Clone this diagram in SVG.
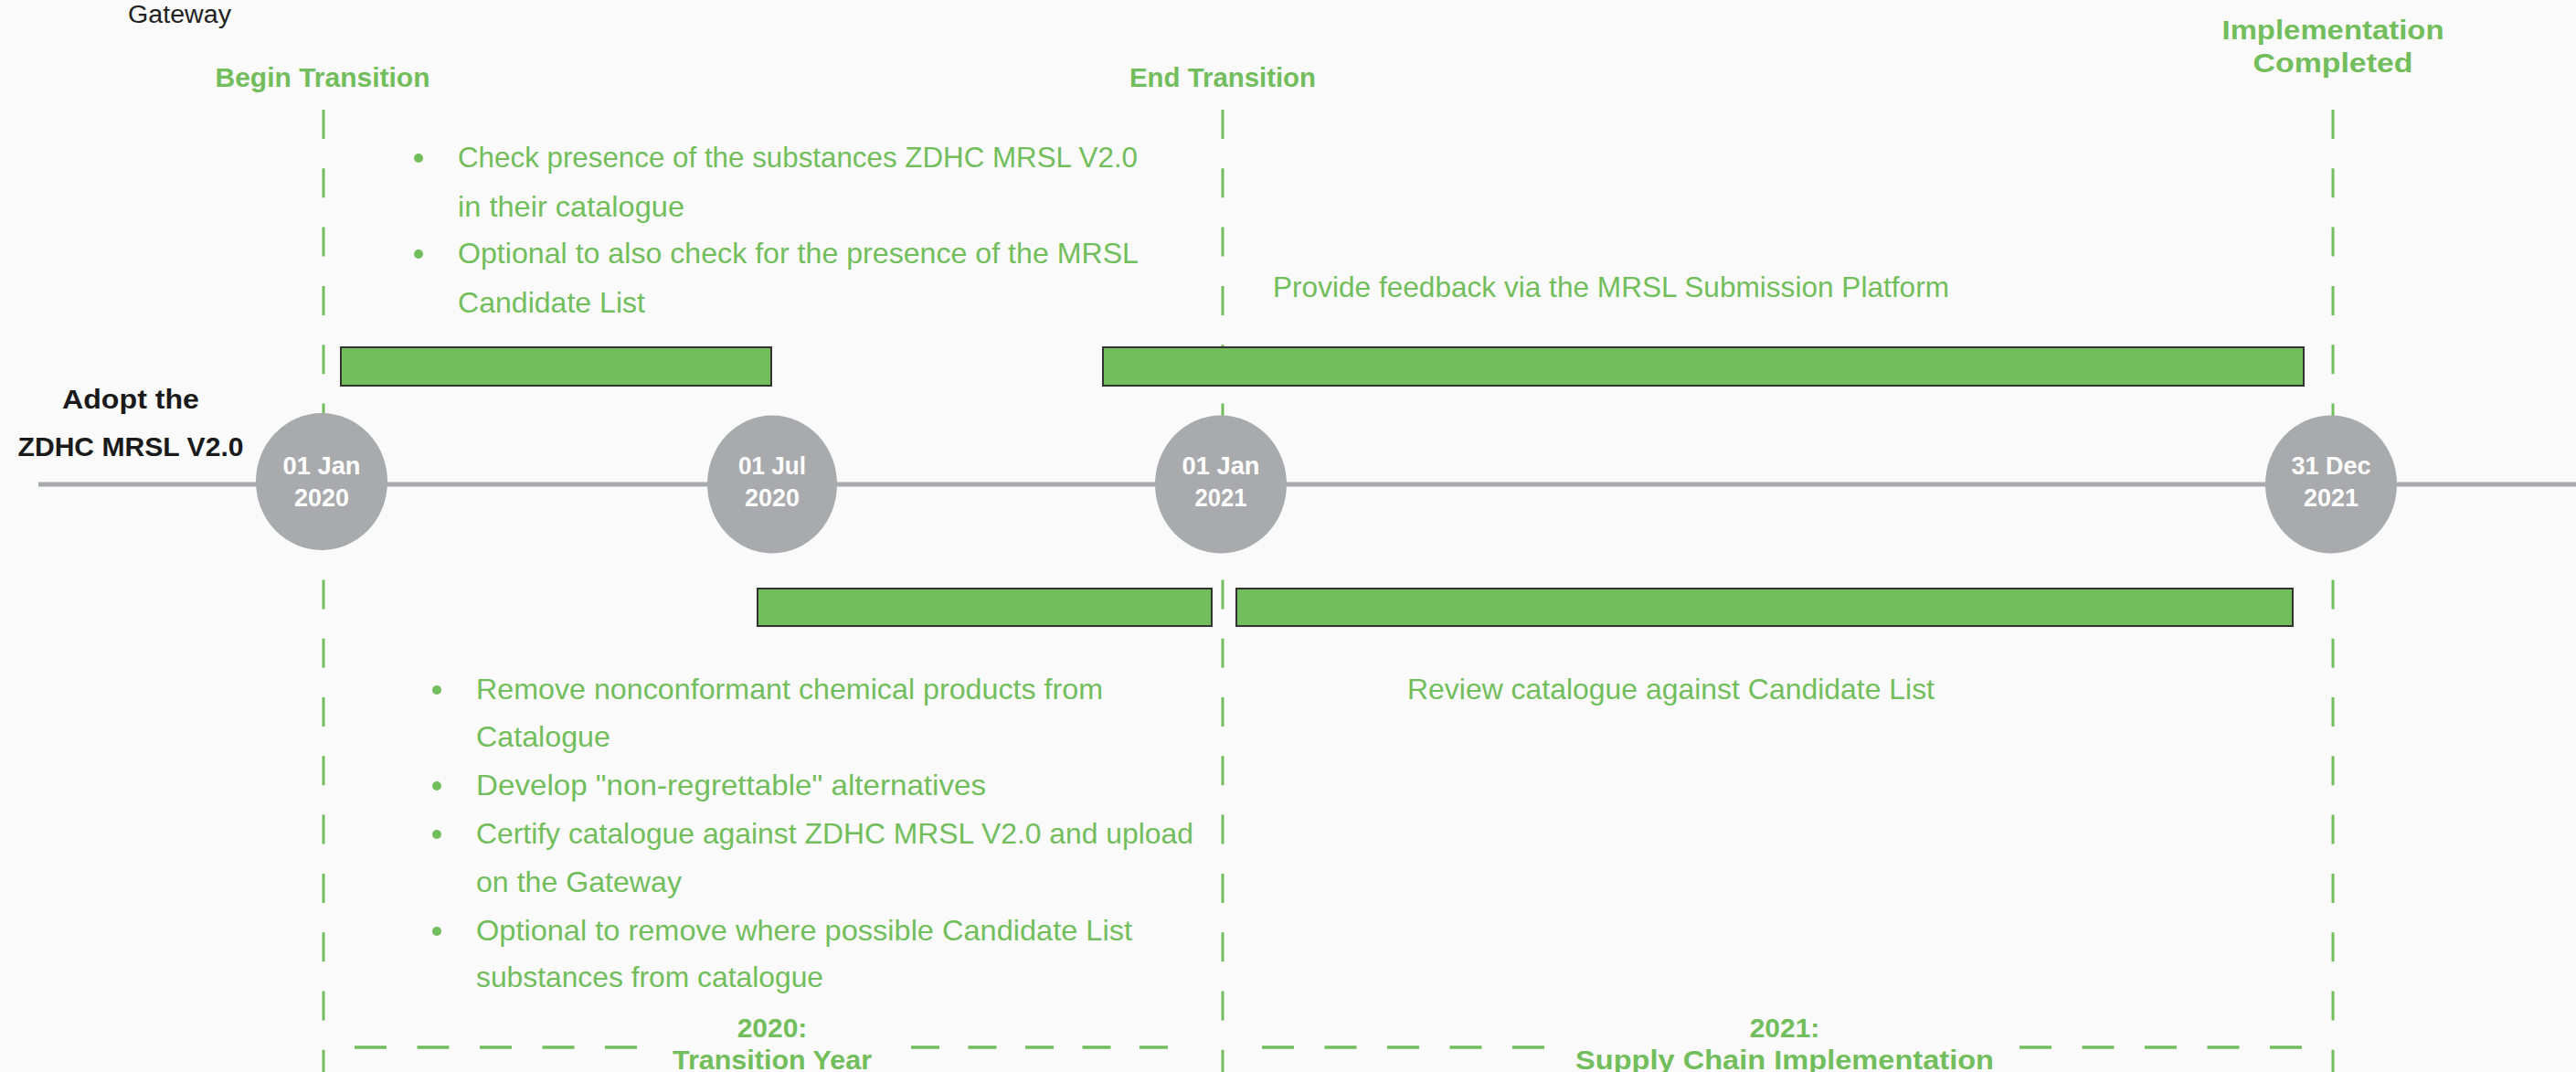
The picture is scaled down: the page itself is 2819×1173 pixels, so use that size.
<svg xmlns="http://www.w3.org/2000/svg" width="2819" height="1173" viewBox="0 0 2819 1173">
<style>
.body{font-family:"Liberation Sans",Arial,sans-serif;font-size:31.5px;fill:#72bd5c}
.head{font-family:"Liberation Sans",Arial,sans-serif;font-size:30px;font-weight:bold;fill:#72bd5c;text-anchor:middle}
.date{font-family:"Liberation Sans",Arial,sans-serif;font-size:27px;font-weight:bold;fill:#ffffff;text-anchor:middle}
.black{font-family:"Liberation Sans",Arial,sans-serif;font-weight:bold;fill:#1a1a1a;text-anchor:middle;font-size:30px}
.guide{stroke:#72bd5c;stroke-width:3;stroke-dasharray:32 32.3;fill:none}
.hdash{stroke:#72bd5c;stroke-width:3.5;fill:none}
.bar{fill:#72bd5c;stroke:#333333;stroke-width:2}
.node{fill:#a9aaad}
.dot{fill:#72bd5c}
</style>
<rect x="0" y="0" width="2819" height="1173" fill="#fafafa"/>
<text x="140" y="25" font-family="Liberation Sans, Arial, sans-serif" font-size="27" fill="#222" textLength="113" lengthAdjust="spacingAndGlyphs">Gateway</text>

<g id="connectors">
  <line class="guide" x1="354" y1="120" x2="354" y2="1173"/>
  <line class="guide" x1="1338" y1="120" x2="1338" y2="1173"/>
  <line class="guide" x1="2553" y1="120" x2="2553" y2="1173"/>
  <line x1="42" y1="530" x2="2819" y2="530" stroke="#a9aaad" stroke-width="5"/>
  <line class="hdash" x1="388" y1="1146" x2="697" y2="1146" stroke-dasharray="35 33.5"/>
  <line class="hdash" x1="997" y1="1146" x2="1278" y2="1146" stroke-dasharray="31 31.5"/>
  <line class="hdash" x1="1381" y1="1146" x2="1691" y2="1146" stroke-dasharray="35 33.5"/>
  <line class="hdash" x1="2210" y1="1146" x2="2519" y2="1146" stroke-dasharray="35 33.5"/>
</g>

<g id="milestone-begin">
  <text class="head" x="353" y="95" textLength="235" lengthAdjust="spacingAndGlyphs">Begin Transition</text>
</g>
<g id="milestone-end">
  <text class="head" x="1338" y="95" textLength="204" lengthAdjust="spacingAndGlyphs">End Transition</text>
</g>
<g id="milestone-complete">
  <text class="head" x="2553" y="43" font-size="32" textLength="243" lengthAdjust="spacingAndGlyphs">Implementation</text>
  <text class="head" x="2553" y="79" font-size="32" textLength="175" lengthAdjust="spacingAndGlyphs">Completed</text>
</g>

<g id="adopt">
  <text class="black" x="143" y="447" textLength="150" lengthAdjust="spacingAndGlyphs">Adopt the</text>
  <text class="black" x="143" y="499" textLength="247" lengthAdjust="spacingAndGlyphs">ZDHC MRSL V2.0</text>
</g>

<g id="node-jan2020">
  <ellipse class="node" cx="352" cy="527" rx="72" ry="75"/>
  <text class="date" x="352" y="519" textLength="85" lengthAdjust="spacingAndGlyphs">01 Jan</text>
  <text class="date" x="352" y="554" textLength="60" lengthAdjust="spacingAndGlyphs">2020</text>
</g>
<g id="node-jul2020">
  <ellipse class="node" cx="845" cy="530" rx="71" ry="75.5"/>
  <text class="date" x="845" y="519" textLength="74" lengthAdjust="spacingAndGlyphs">01 Jul</text>
  <text class="date" x="845" y="554" textLength="60" lengthAdjust="spacingAndGlyphs">2020</text>
</g>
<g id="node-jan2021">
  <ellipse class="node" cx="1336" cy="530" rx="72" ry="75.5"/>
  <text class="date" x="1336" y="519" textLength="85" lengthAdjust="spacingAndGlyphs">01 Jan</text>
  <text class="date" x="1336" y="554" textLength="57" lengthAdjust="spacingAndGlyphs">2021</text>
</g>
<g id="node-dec2021">
  <ellipse class="node" cx="2551" cy="530" rx="72" ry="75.5"/>
  <text class="date" x="2551" y="519">31 Dec</text>
  <text class="date" x="2551" y="554">2021</text>
</g>

<g id="bar-check"><rect class="bar" x="373" y="380" width="471" height="42"/></g>
<g id="bar-feedback"><rect class="bar" x="1207" y="380" width="1314" height="42"/></g>
<g id="bar-remove"><rect class="bar" x="829" y="644" width="497" height="41"/></g>
<g id="bar-review"><rect class="bar" x="1353" y="644" width="1156" height="41"/></g>

<g id="text-check">
  <circle class="dot" cx="458" cy="173" r="5"/>
  <text class="body" x="501" y="183" textLength="744" lengthAdjust="spacingAndGlyphs">Check presence of the substances ZDHC MRSL V2.0</text>
  <text class="body" x="501" y="237" textLength="248" lengthAdjust="spacingAndGlyphs">in their catalogue</text>
  <circle class="dot" cx="458" cy="278" r="5"/>
  <text class="body" x="501" y="288" textLength="745" lengthAdjust="spacingAndGlyphs">Optional to also check for the presence of the MRSL</text>
  <text class="body" x="501" y="342" textLength="205" lengthAdjust="spacingAndGlyphs">Candidate List</text>
</g>

<g id="text-feedback">
  <text class="body" x="1393" y="325" textLength="740" lengthAdjust="spacingAndGlyphs">Provide feedback via the MRSL Submission Platform</text>
</g>

<g id="text-remove">
  <circle class="dot" cx="478" cy="755" r="5"/>
  <text class="body" x="521" y="765" textLength="686" lengthAdjust="spacingAndGlyphs">Remove nonconformant chemical products from</text>
  <text class="body" x="521" y="817" textLength="147" lengthAdjust="spacingAndGlyphs">Catalogue</text>
  <circle class="dot" cx="478" cy="860" r="5"/>
  <text class="body" x="521" y="870" textLength="558" lengthAdjust="spacingAndGlyphs">Develop "non-regrettable" alternatives</text>
  <circle class="dot" cx="478" cy="913" r="5"/>
  <text class="body" x="521" y="923" textLength="785" lengthAdjust="spacingAndGlyphs">Certify catalogue against ZDHC MRSL V2.0 and upload</text>
  <text class="body" x="521" y="976" textLength="225" lengthAdjust="spacingAndGlyphs">on the Gateway</text>
  <circle class="dot" cx="478" cy="1019" r="5"/>
  <text class="body" x="521" y="1029" textLength="718" lengthAdjust="spacingAndGlyphs">Optional to remove where possible Candidate List</text>
  <text class="body" x="521" y="1080" textLength="380" lengthAdjust="spacingAndGlyphs">substances from catalogue</text>
</g>

<g id="text-review">
  <text class="body" x="1540" y="765" textLength="577" lengthAdjust="spacingAndGlyphs">Review catalogue against Candidate List</text>
</g>

<g id="phase-2020">
  <text class="head" x="845" y="1135" font-size="31">2020:</text>
  <text class="head" x="845" y="1170" font-size="31" textLength="218" lengthAdjust="spacingAndGlyphs">Transition Year</text>
</g>
<g id="phase-2021">
  <text class="head" x="1953" y="1135" font-size="31">2021:</text>
  <text class="head" x="1953" y="1170" font-size="31" textLength="458" lengthAdjust="spacingAndGlyphs">Supply Chain Implementation</text>
</g>
</svg>
